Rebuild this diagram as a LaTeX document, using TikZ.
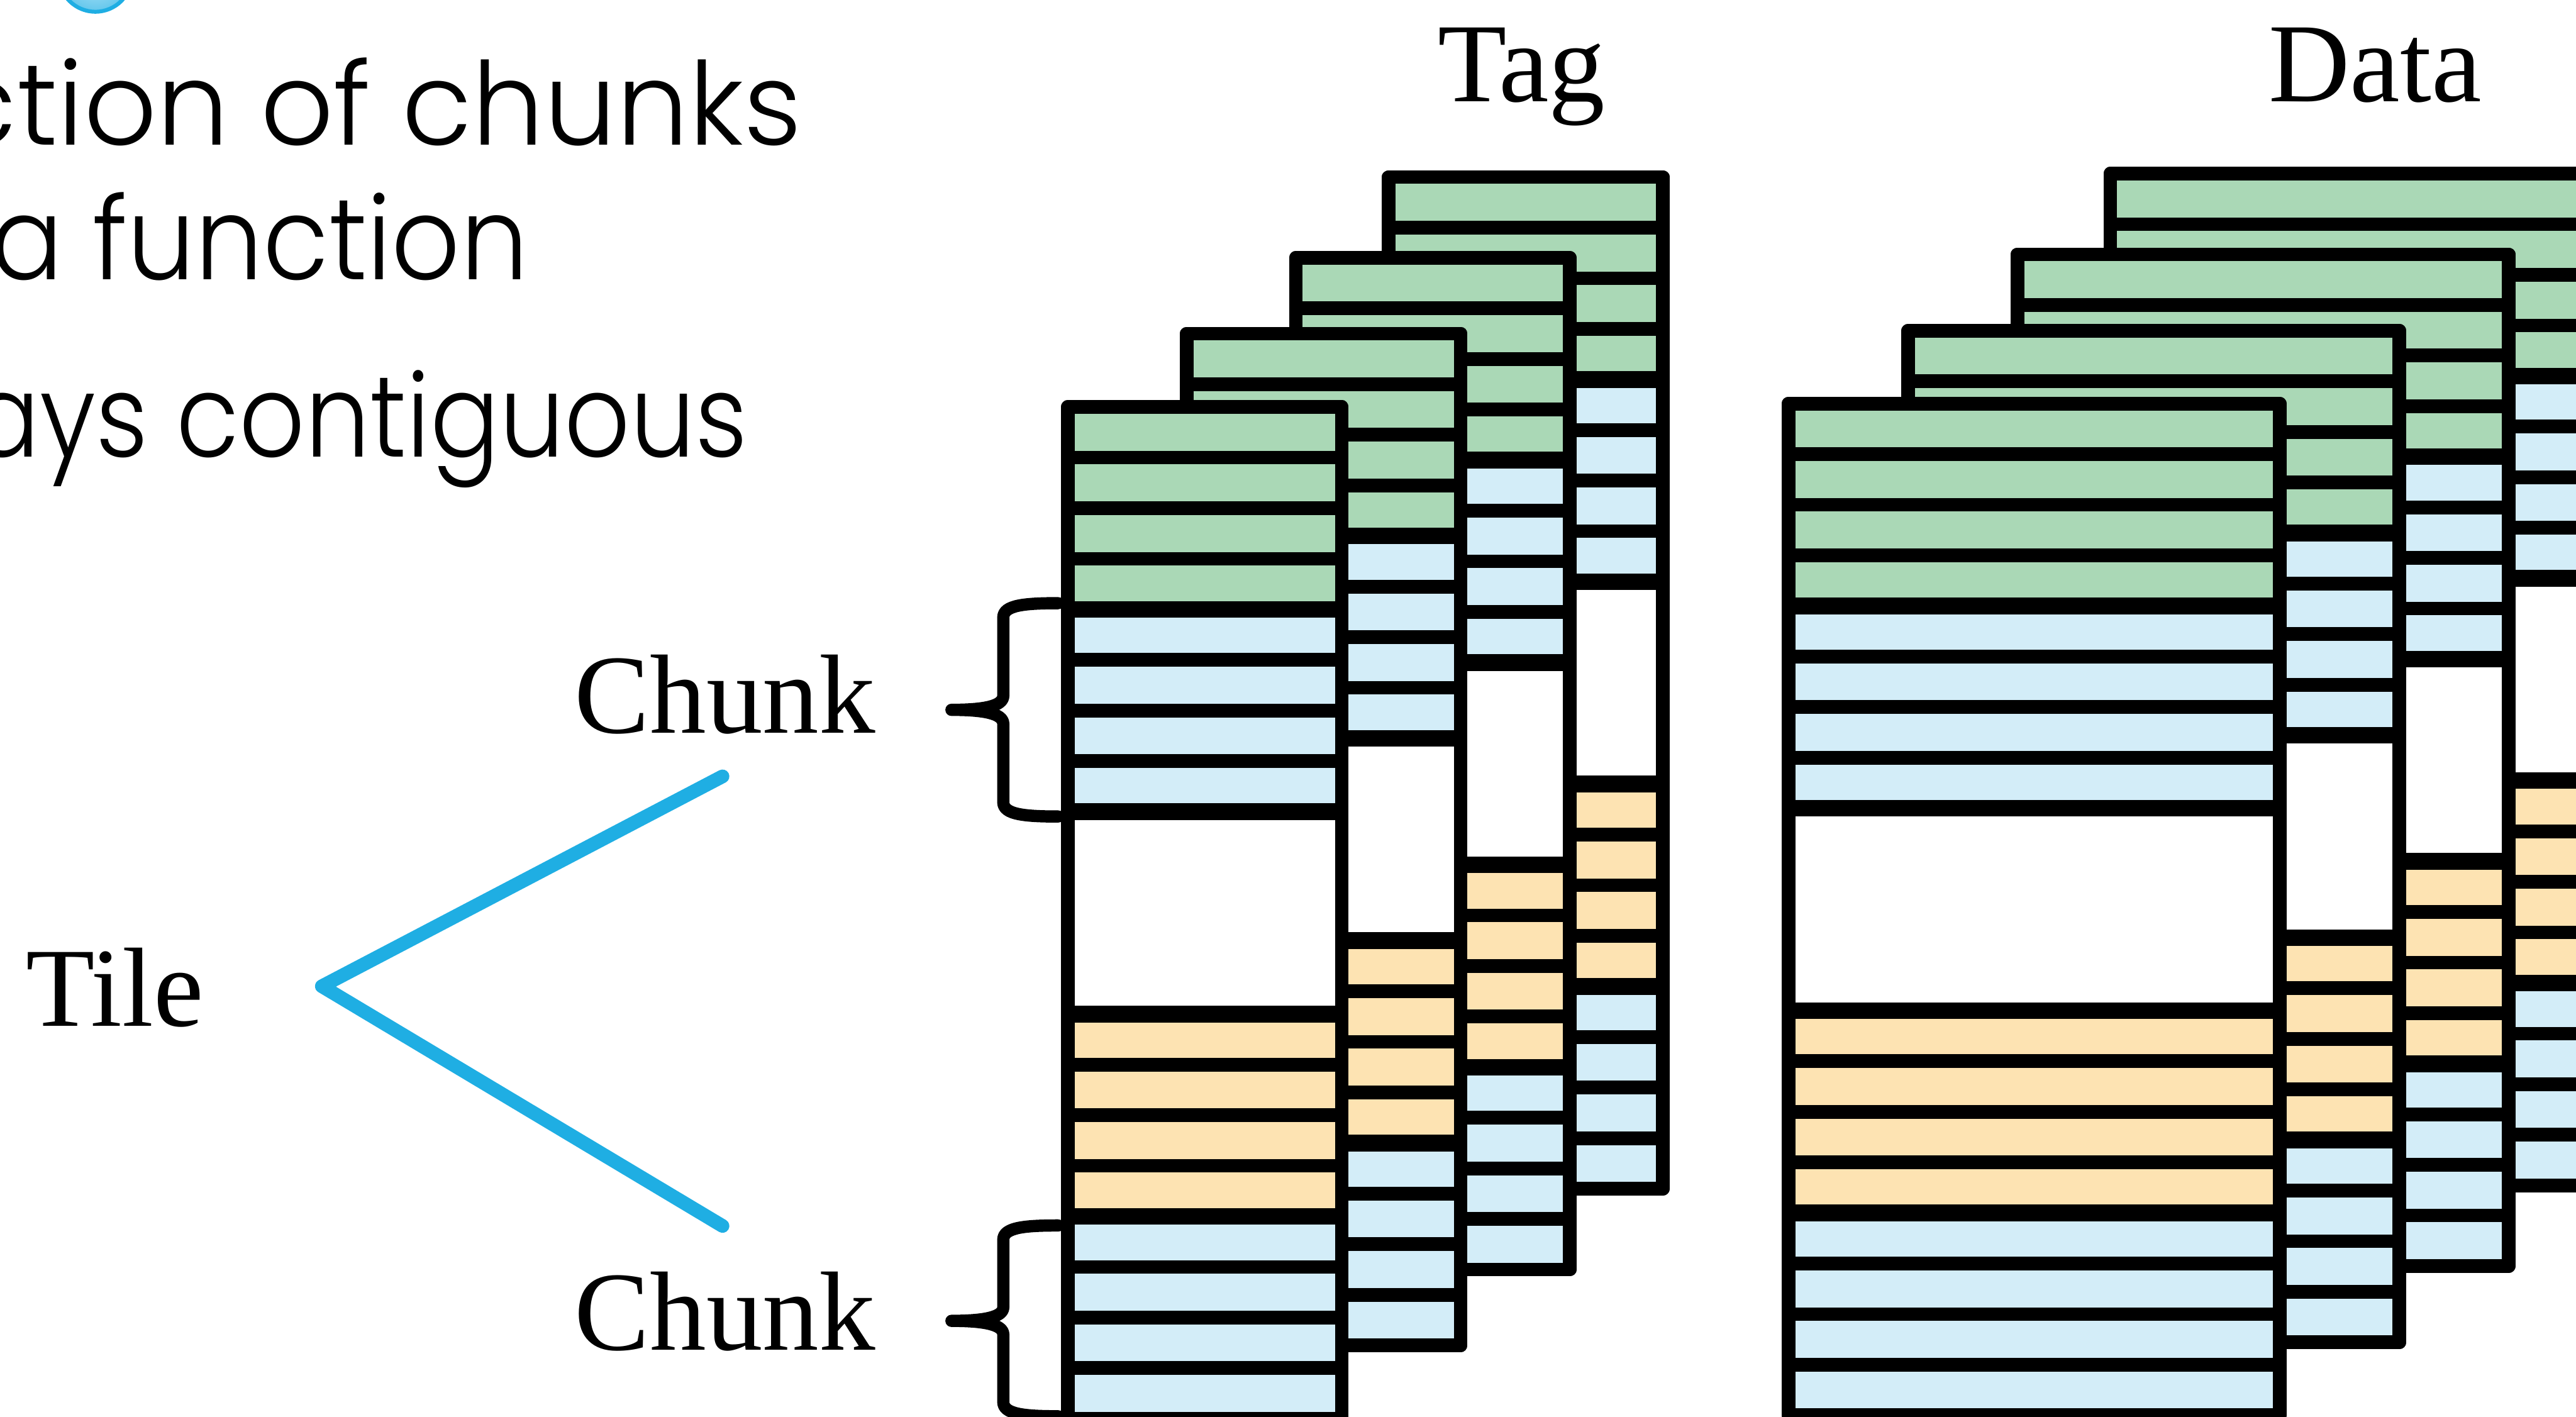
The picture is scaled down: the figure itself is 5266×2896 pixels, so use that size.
\documentclass[tikz,border=0pt]{standalone}
\usepackage{graphicx}
\usepackage{fontspec}
\setmainfont{Liberation Serif}
\newfontfamily\gothicfont{Poppins}[UprightFont={* Light}]

\definecolor{rowgreen}{RGB}{170,216,182}
\definecolor{rowblue}{RGB}{211,237,248}
\definecolor{roworange}{RGB}{253,227,178}
\definecolor{linkcyan}{RGB}{31,174,227}
\definecolor{bulletlight}{RGB}{190,232,250}

\tikzset{
  cell/.style={draw=black, line width=0.28cm, line join=round},
  groupline/.style={draw=black, line width=0.34cm},
  frame/.style={draw=black, line width=0.28cm, line join=round},
  label/.style={inner sep=0pt, outer sep=0pt, font=\fontsize{65.5pt}{70pt}\selectfont},
  bodytext/.style={inner sep=0pt, outer sep=0pt, font=\gothicfont\fontsize{67pt}{72pt}\selectfont},
  link/.style={draw=linkcyan, line width=0.28cm, line cap=round, line join=round},
  bracestroke/.style={draw=black, line width=0.25cm, line cap=round, line join=round},
}

% One memory board: 20 rows, 4 green, 4 blue, 4 empty, 4 orange, 4 blue.
% #1 = left edge, #2 = top edge, #3 = width
\newcommand\memboard[3]{%
  \fill[white] (#1,#2) rectangle ++(#3,2068);
  \foreach \k/\c in {0/rowgreen,1/rowgreen,2/rowgreen,3/rowgreen,
                     4/rowblue,5/rowblue,6/rowblue,7/rowblue,
                     12/roworange,13/roworange,14/roworange,15/roworange,
                     16/rowblue,17/rowblue,18/rowblue,19/rowblue}
    {\filldraw[cell, fill=\c] (#1,{#2+\k*103.4}) rectangle ++(#3,103.4);}
  \foreach \k in {4,8,12,16}
    {\draw[groupline] (#1,{#2+\k*103.4}) -- ++(#3,0);}
  \draw[frame] (#1,#2) rectangle ++(#3,2068);
}

\begin{document}
\begin{tikzpicture}[x=0.01cm, y=-0.01cm]
\useasboundingbox (0,0) rectangle (5266,2896);
\clip (0,0) rectangle (5266,2896);

% bullet sphere at the top edge
\shade[inner color=bulletlight, outer color=linkcyan!70] (195,-51) circle (75);
\draw[linkcyan, line width=0.08cm] (195,-51) circle (75);

% bullet text
\node[bodytext, anchor=base east] (line1) at (1639,296) {\scalebox{0.99}[1]{ction of chunks}};
\node[bodytext, anchor=base east] (line2) at (1080,571) {\scalebox{0.93}[1]{a function}};
\node[bodytext, anchor=base east] (line3) at (1528,934) {\scalebox{0.89}[1]{ays contiguous}};

% headings
\node[label, anchor=base west] (tag) at (2939,207) {Tag};
\node[label, anchor=base west] (data) at (4638,207) {Data};

% tag boards, back to front
\memboard{2839}{362}{560}
\memboard{2649}{527}{560}
\memboard{2426}{682}{560}
\memboard{2183}{832}{560}

% data boards, back to front
\memboard{4314}{355}{1004}
\memboard{4124}{520}{1004}
\memboard{3901}{676}{1004}
\memboard{3656}{825}{1004}

% chunk braces
\draw[bracestroke] (2163,1233) .. controls (2095,1233) and (2051,1237) .. (2051,1262)
  -- (2051,1422) .. controls (2051,1444) and (2010,1451) .. (1945,1451)
  .. controls (2010,1451) and (2051,1458) .. (2051,1480)
  -- (2051,1640) .. controls (2051,1665) and (2095,1669) .. (2163,1669);
\draw[bracestroke] (2163,2505) .. controls (2095,2505) and (2051,2509) .. (2051,2534)
  -- (2051,2672) .. controls (2051,2693) and (2010,2700) .. (1945,2700)
  .. controls (2010,2700) and (2051,2707) .. (2051,2728)
  -- (2051,2866) .. controls (2051,2891) and (2095,2895) .. (2163,2895);

% labels
\node[label, anchor=base west] (chunkA) at (1175,1498) {Chunk};
\node[label, anchor=base west] (chunkB) at (1175,2760) {Chunk};
\node[label, anchor=base west] (tile) at (53,2097) {Tile};

% tile to chunk connectors
\coordinate (endA) at (1477,1587);
\coordinate (fork) at (658,2016);
\coordinate (endB) at (1477,2506);
\draw[link] (endA) -- (fork) -- (endB);
\end{tikzpicture}
\end{document}
